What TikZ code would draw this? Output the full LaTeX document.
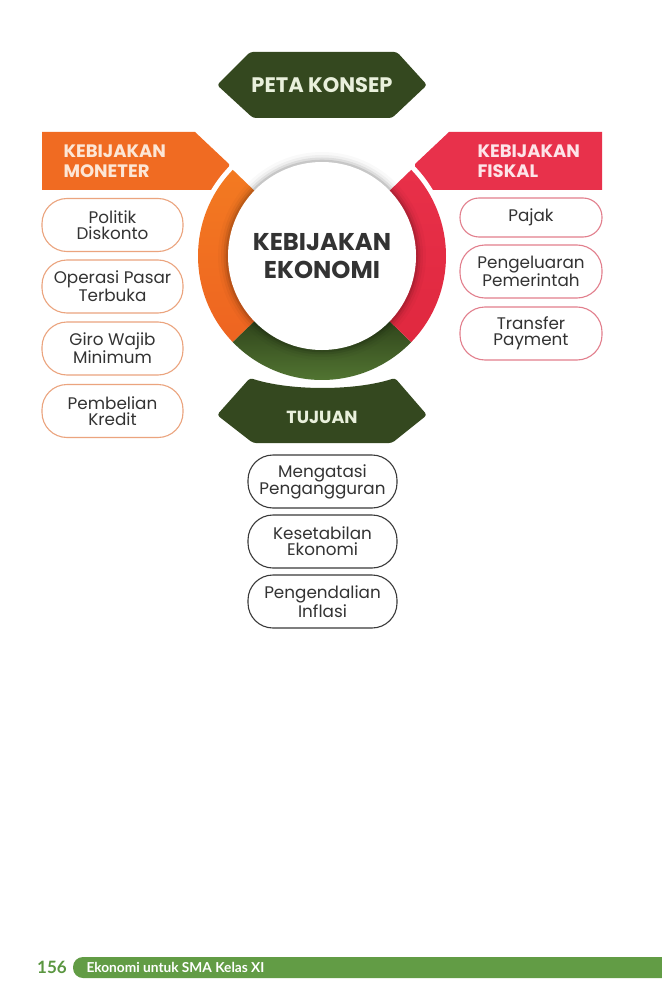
\documentclass[tikz,border=0pt]{standalone}
\usepackage{fontspec}
\setmainfont{Poppins}
\newfontfamily\latofont{Lato}
\usetikzlibrary{calc}
\definecolor{dkgreen}{HTML}{34481F}
\definecolor{hdrorange}{HTML}{F06B22}
\definecolor{hdrred}{HTML}{E8314B}
\definecolor{orgtxt}{HTML}{FCE6D6}
\definecolor{redtxt}{HTML}{FDE4E8}
\definecolor{grntxt}{HTML}{E9F0DC}
\definecolor{lpillc}{HTML}{EBA47E}
\definecolor{rpillc}{HTML}{E27F8D}
\definecolor{bpillc}{HTML}{3A3A3A}
\definecolor{pilltext}{HTML}{333333}
\definecolor{footgreen}{HTML}{629C45}
\definecolor{pagenum}{HTML}{5A9640}
\definecolor{orgA}{HTML}{F37A21}
\definecolor{orgB}{HTML}{F8961F}
\definecolor{orgC}{HTML}{EE6421}
\definecolor{redA}{HTML}{E83049}
\definecolor{redB}{HTML}{EC5F72}
\definecolor{redC}{HTML}{E0283F}
\definecolor{grnA}{HTML}{2B3D18}
\definecolor{grnB}{HTML}{557A34}
\begin{document}
\begin{tikzpicture}[x=1pt,y=1pt,
  pill/.style={draw, line width=1.1pt, fill=white, rounded corners=25pt,
    minimum width=141pt, minimum height=53pt, inner sep=0pt, align=center,
    text=pilltext, font=\fontsize{16.8}{16}\selectfont},
  lpill/.style={pill, draw=lpillc},
  rpill/.style={pill, draw=rpillc, minimum width=142pt},
  bpill/.style={pill, draw=bpillc, minimum width=149pt},
  hdrtext/.style={font=\bfseries\fontsize{18}{20}\selectfont, align=left, anchor=west},
  bantext/.style={font=\bfseries\fontsize{21}{22}\selectfont, text=grntxt}]
\useasboundingbox (0,0) rectangle (661,-1000);
\fill[white] (0,0) rectangle (661,-1000);
\coordinate (C) at (322,-256);

% top banner
\fill[dkgreen, rounded corners=3pt] (217,-85) -- (250,-52) -- (397,-52) -- (427,-85) -- (392,-118) -- (253,-118) -- cycle;
\node[bantext] (peta) at (322,-85) {PETA KONSEP};

% headers
\fill[hdrorange] (42,-132) -- (195,-132) -- (229,-164) -- (229,-190) -- (42,-190) -- cycle;
\fill[hdrred] (602,-132) -- (449,-132) -- (415,-164) -- (415,-190) -- (602,-190) -- cycle;

% tujuan banner
\fill[dkgreen, rounded corners=3pt] (217,-415) -- (250,-378) .. controls (290,-391) and (355,-391) .. (395,-378) -- (427,-415) -- (392,-443) -- (253,-443) -- cycle;
\node[bantext, font=\bfseries\fontsize{17.5}{20}\selectfont] (tujuan) at (322,-417) {TUJUAN};

% white gap disk
\fill[white] (C) circle (129);

% ring segments
\shade[top color=orgA, middle color=orgB, bottom color=orgC]
  ($(C)+(136:124)$) arc[start angle=136, end angle=224, radius=124]
  -- ($(C)+(224:80)$) arc[start angle=224, end angle=136, radius=80] -- cycle;
\shade[top color=grnA, bottom color=grnB]
  ($(C)+(224:124)$) arc[start angle=224, end angle=316, radius=124]
  -- ($(C)+(316:80)$) arc[start angle=316, end angle=224, radius=80] -- cycle;
\shade[top color=redA, middle color=redB, bottom color=redC]
  ($(C)+(316:124)$) arc[start angle=316, end angle=404, radius=124]
  -- ($(C)+(404:80)$) arc[start angle=404, end angle=316, radius=80] -- cycle;

% shadow of centre circle
\fill[black, opacity=0.025] (C) circle (104);
\fill[black, opacity=0.04] (C) circle (101);
\fill[black, opacity=0.07] (C) circle (98.5);
\fill[black, opacity=0.10] (C) circle (96.3);
\fill[white] (C) circle (94);
\node[font=\bfseries\fontsize{24.3}{28}\selectfont, text=pilltext, align=center] (center) at (322,-256) {KEBIJAKAN\\EKONOMI};

% header texts
\node[hdrtext, text=orgtxt] (moneter) at (60,-161) {KEBIJAKAN\\MONETER};
\node[hdrtext, text=redtxt] (fiskal) at (474,-161) {KEBIJAKAN\\FISKAL};

% left pills
\node[lpill] (l1) at (112.5,-225) {Politik\\Diskonto};
\node[lpill] (l2) at (112.5,-286.5) {Operasi Pasar\\Terbuka};
\node[lpill] (l3) at (112.5,-348.5) {Giro Wajib\\Minimum};
\node[lpill] (l4) at (112.5,-411) {Pembelian\\Kredit};

% right pills
\node[rpill, minimum height=39pt, rounded corners=19pt] (r1) at (531,-217.5) {Pajak};
\node[rpill] (r2) at (531,-271.5) {Pengeluaran\\Pemerintah};
\node[rpill] (r3) at (531,-333.5) {Transfer\\Payment};

% bottom pills
\node[bpill] (b1) at (322.5,-481.5) {Mengatasi\\Pengangguran};
\node[bpill] (b2) at (322.5,-541.5) {Kesetabilan\\Ekonomi};
\node[bpill] (b3) at (322.5,-601.5) {Pengendalian\\Inflasi};

% footer
\fill[footgreen, rounded corners=10pt] (73,-957) rectangle (680,-978);
\node[font=\latofont\bfseries\fontsize{17}{17}\selectfont, text=pagenum] (pnum) at (52,-967.5) {156};
\node[font=\latofont\bfseries\fontsize{13.7}{14}\selectfont, text=white, anchor=west] (ftext) at (83,-967.5) {Ekonomi untuk SMA Kelas XI};
\end{tikzpicture}
\end{document}
